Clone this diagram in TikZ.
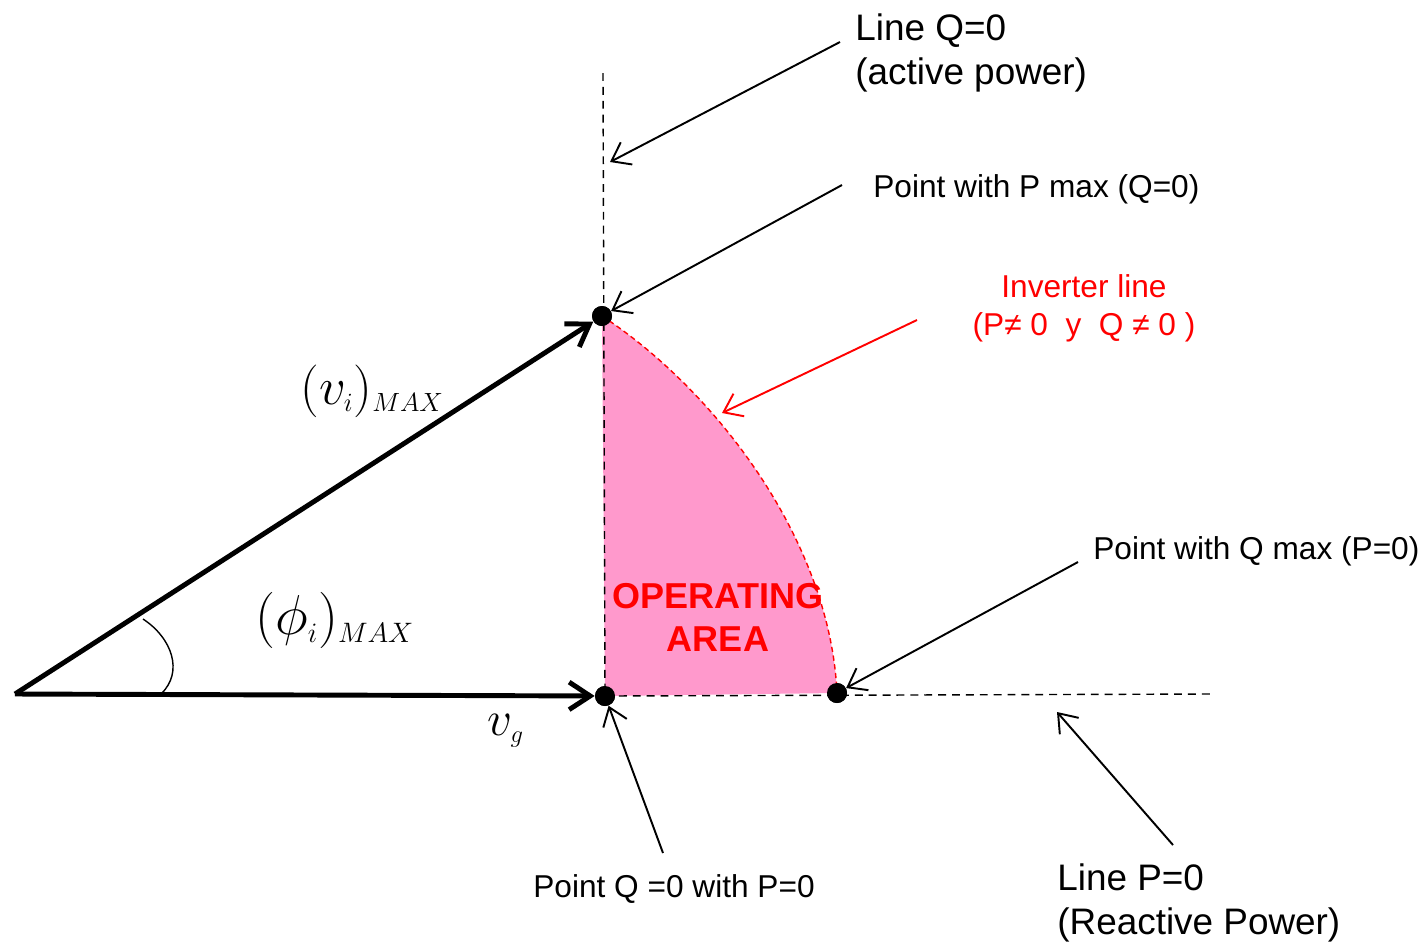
\RequirePackage{fix-cm}
\documentclass[tikz,border=0pt]{standalone}
\usepackage{fontspec}
\setmainfont{Liberation Sans}
\definecolor{areapink}{HTML}{FF99CC}
\definecolor{invred}{HTML}{FF0000}
\usetikzlibrary{arrows.meta,calc}

\begin{document}
\begin{tikzpicture}[x=0.02cm,y=-0.02cm,
  dot/.style={circle,fill=black,inner sep=0pt,minimum size=0.4cm},
  vec/.style={line width=2.8pt,-{Straight Barb[length=0.42cm,width=0.55cm]}},
  pointer/.style={line width=1.1pt,-{Straight Barb[length=0.34cm,width=0.5cm]}},
  guide/.style={line width=0.8pt,dash pattern=on 4.5pt off 3.4pt},
  lbl/.style={font=\fontsize{18}{22}\selectfont,inner sep=0pt},
  biglbl/.style={font=\fontsize{21}{25}\selectfont,inner sep=0pt,align=left},
  mathlbl/.style={font=\fontsize{30}{32}\selectfont,inner sep=0pt,anchor=base west}]
  \useasboundingbox (0,0) rectangle (1426,944);

  % points of the diagram
  \coordinate (o) at (15,694);
  \coordinate (qtop) at (603,73);
  \coordinate (pend) at (1210,694);
  \node[dot] (pmax) at (602,316) {};
  \node[dot] (zero) at (605,696) {};
  \node[dot] (qmax) at (837,693) {};

  % operating area
  \fill[areapink] (pmax.center) .. controls (715,390) and (830,540) .. (qmax.center)
    -- (zero.center) -- cycle;
  \draw[invred,line width=0.8pt,dash pattern=on 3pt off 2pt]
    (pmax.center) .. controls (715,390) and (830,540) .. (qmax.center);
  \draw[guide] (qtop) -- (zero.center);
  \draw[guide] (zero.center) -- (pend);

  % vectors
  \draw[vec] (o) -- (pmax);
  \draw[vec] (o) -- (zero);
  \draw[line width=0.8pt] (143,619) .. controls (172,638) and (184,672) .. (161,694);
  \node[dot] at (pmax) {};
  \node[dot] at (zero) {};
  \node[dot] at (qmax) {};

  \node[mathlbl] (vi) at (300,404) {$(v_{\scriptscriptstyle i})_{\scriptscriptstyle MAX}$};
  \node[mathlbl,font=\fontsize{32}{34}\selectfont] (phi) at (255,634)
    {$(\phi_{\scriptscriptstyle i})_{\scriptscriptstyle MAX}$};
  \node[mathlbl,font=\fontsize{28}{30}\selectfont] (vg) at (487,735) {$v_{\scriptscriptstyle g}$};

  % labels
  \node[biglbl,anchor=north west] (lineq) at (855,13) {Line Q=0\\(active power)};
  \node[lbl,anchor=base west] (pmaxlbl) at (873,197) {Point with P max (Q=0)};
  \node[lbl,invred,align=center,anchor=north] (invlbl) at (1084,274)
    {Inverter line\\(P≠ 0\ \ y\ \ Q ≠ 0 )};
  \node[font=\bfseries\fontsize{20.5}{24.5}\selectfont,invred,align=center,
    inner sep=0pt,anchor=north] (opa) at (718,583) {OPERATING\\AREA};
  \node[lbl,anchor=base west] (qmaxlbl) at (1093,559) {Point with Q max (P=0)};
  \node[lbl,anchor=base west] (zerolbl) at (533,897) {Point Q =0 with P=0};
  \node[biglbl,anchor=north west] (linep) at (1057,863) {Line P=0\\(Reactive Power)};

  % pointers
  \coordinate (lineqtail) at (840,42);
  \coordinate (lineqhead) at (610,162);
  \coordinate (pmaxtail) at (842,185);
  \coordinate (invtail) at (917,320);
  \coordinate (invhead) at (722,413);
  \coordinate (qmaxtail) at (1078,562);
  \coordinate (zerotail) at (663,853);
  \coordinate (lineptail) at (1173,845);
  \coordinate (linephead) at (1057,712);
  \draw[pointer] (lineqtail) -- (lineqhead);
  \draw[pointer] (pmaxtail) -- (pmax);
  \draw[pointer,invred] (invtail) -- (invhead);
  \draw[pointer] (qmaxtail) -- (qmax);
  \draw[pointer] (zerotail) -- (zero);
  \draw[pointer] (lineptail) -- (linephead);
\end{tikzpicture}
\end{document}
